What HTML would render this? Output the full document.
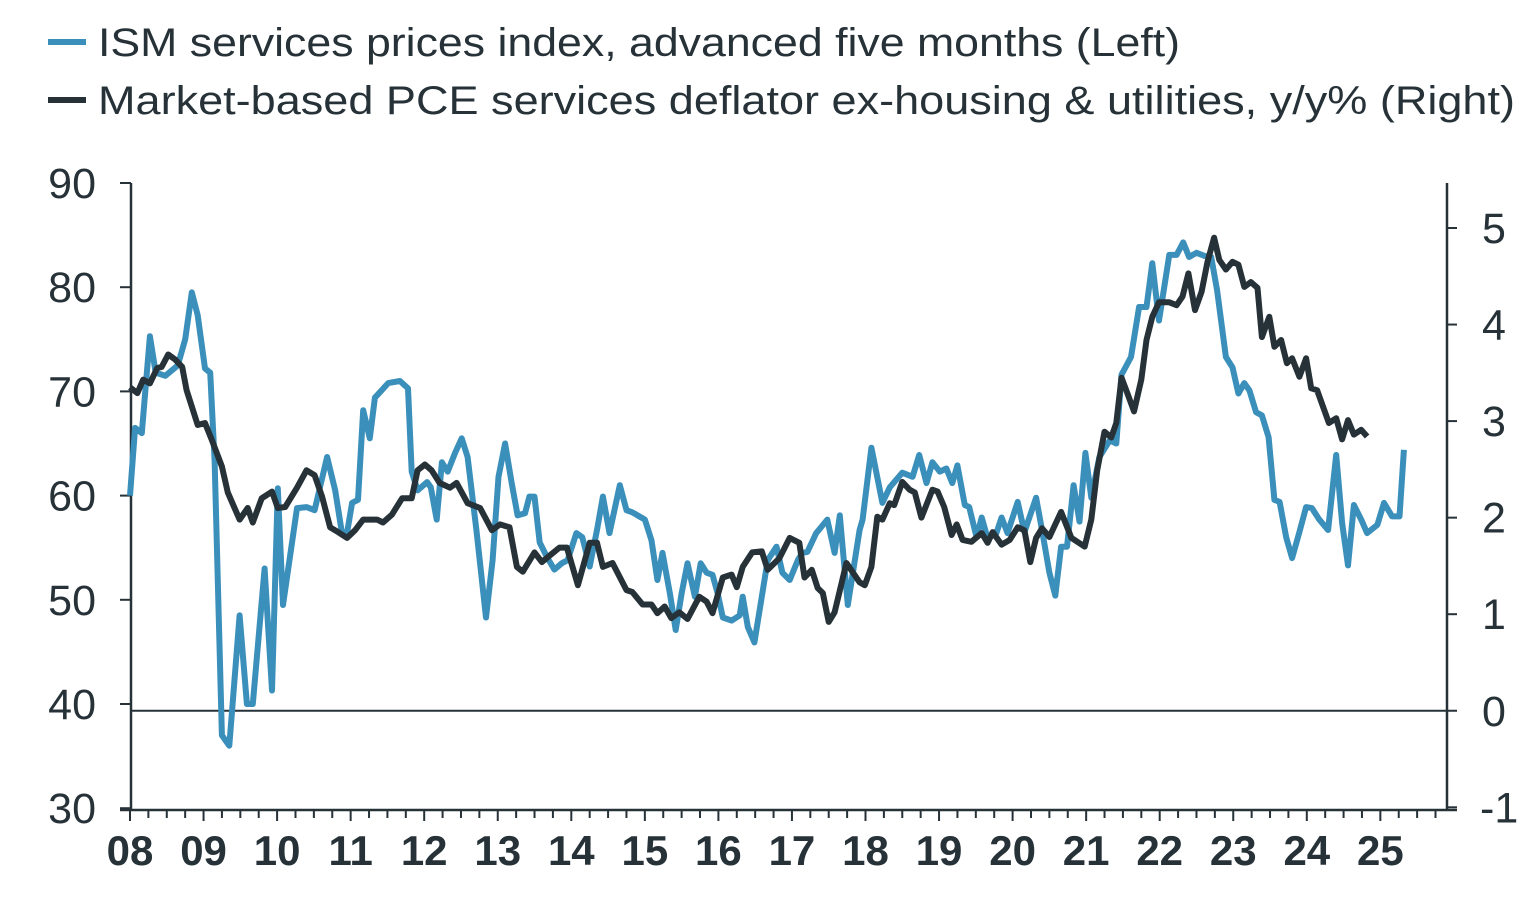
<!DOCTYPE html>
<html><head><meta charset="utf-8">
<style>
html,body{margin:0;padding:0;background:#fff;}
body{width:1540px;height:900px;overflow:hidden;font-family:"Liberation Sans",sans-serif;}
svg text{font-family:"Liberation Sans",sans-serif;fill:#263238;}
</style></head>
<body>
<svg id="chart" width="1540" height="900" viewBox="0 0 1540 900" xmlns="http://www.w3.org/2000/svg">
  <g>
    <g>
      <line x1="48" y1="42" x2="86" y2="42" stroke="#3b8fbb" stroke-width="6"/>
      <text x="98" y="56" font-size="40" textLength="1082" lengthAdjust="spacingAndGlyphs">ISM services prices index, advanced five months (Left)</text>
    </g>
    <g>
      <line x1="48" y1="100" x2="86" y2="100" stroke="#263238" stroke-width="6"/>
      <text x="98" y="114" font-size="40" textLength="1417" lengthAdjust="spacingAndGlyphs">Market-based PCE services deflator ex-housing &amp; utilities, y/y% (Right)</text>
    </g>
  </g>
  <g id="axes"></g>
  <g id="series"></g>
</svg>
<script>
const ismDates=[2008.00,2008.07,2008.16,2008.27,2008.35,2008.48,2008.65,2008.75,2008.84,2008.92,2009.02,2009.09,2009.15,2009.25,2009.35,2009.49,2009.59,2009.67,2009.83,2009.93,2010.01,2010.08,2010.27,2010.40,2010.51,2010.68,2010.79,2010.88,2010.95,2011.02,2011.10,2011.17,2011.26,2011.33,2011.51,2011.67,2011.78,2011.83,2011.91,2012.04,2012.09,2012.17,2012.24,2012.32,2012.42,2012.51,2012.59,2012.71,2012.84,2012.93,2013.01,2013.10,2013.19,2013.27,2013.37,2013.43,2013.50,2013.57,2013.67,2013.77,2013.87,2013.95,2014.07,2014.15,2014.25,2014.35,2014.43,2014.52,2014.66,2014.75,2014.83,2015.00,2015.09,2015.17,2015.24,2015.34,2015.42,2015.50,2015.58,2015.68,2015.76,2015.84,2015.92,2015.99,2016.06,2016.18,2016.29,2016.33,2016.40,2016.49,2016.59,2016.67,2016.79,2016.87,2016.97,2017.08,2017.14,2017.21,2017.33,2017.48,2017.58,2017.65,2017.76,2017.92,2017.96,2018.08,2018.23,2018.33,2018.50,2018.64,2018.73,2018.83,2018.91,2019.01,2019.10,2019.18,2019.25,2019.35,2019.41,2019.51,2019.58,2019.66,2019.78,2019.85,2019.93,2020.07,2020.16,2020.32,2020.40,2020.50,2020.58,2020.66,2020.74,2020.83,2020.91,2020.99,2021.07,2021.18,2021.32,2021.41,2021.48,2021.61,2021.72,2021.82,2021.90,2021.99,2022.13,2022.23,2022.32,2022.40,2022.50,2022.61,2022.70,2022.78,2022.90,2022.99,2023.07,2023.15,2023.22,2023.31,2023.39,2023.48,2023.56,2023.63,2023.72,2023.80,2023.90,2023.99,2024.07,2024.17,2024.29,2024.40,2024.48,2024.56,2024.64,2024.74,2024.82,2024.96,2025.05,2025.16,2025.26,2025.32];
const ismValues=[60,66.5,66,75.3,71.8,71.5,72.5,75,79.5,77.3,72.2,71.8,63.4,37,36,48.5,40,40,53,41.3,60.7,49.5,58.8,58.9,58.6,63.7,60.5,56.5,56.4,59.3,59.6,68.2,65.5,69.4,70.8,71,70.3,62.3,60.5,61.3,60.8,57.7,63.2,62.3,64.1,65.5,63.7,56.7,48.3,53.8,61.8,65,61.2,58.1,58.3,59.9,59.9,55.5,54.1,52.9,53.5,53.8,56.4,56,53.2,56.7,59.9,56.4,61,58.6,58.4,57.7,55.7,51.9,54.5,50.6,47.1,50.6,53.5,50.3,53.5,52.6,52.4,50.6,48.3,48,48.5,50.3,47.4,45.9,50.3,53.8,55.1,52.6,51.9,53.8,54.5,54.6,56.4,57.7,54.5,58.1,49.5,56.7,57.7,64.6,59.3,60.8,62.2,61.8,63.9,61.2,63.2,62.3,62.6,61.2,62.9,59.1,58.9,56,57.9,55.9,56.4,57.9,56.4,59.4,56.5,59.8,56.7,52.6,50.4,55.1,55.1,61,57.5,64.1,59.8,63.7,65.3,65,71.6,73.3,78.1,78.1,82.3,76.8,83.1,83.1,84.3,82.9,83.3,83,82.9,79.7,73.3,72.3,69.8,70.8,70.1,68,67.7,65.6,59.6,59.4,56,54,56.5,58.9,58.8,57.7,56.7,63.9,57.4,53.3,59.1,57.7,56.4,57.2,59.3,58,58,64.4];
const pceDates=[2008.00,2008.10,2008.18,2008.27,2008.37,2008.43,2008.52,2008.61,2008.71,2008.77,2008.92,2009.02,2009.11,2009.25,2009.33,2009.49,2009.60,2009.67,2009.79,2009.93,2010.01,2010.11,2010.27,2010.40,2010.51,2010.61,2010.72,2010.83,2010.95,2011.06,2011.17,2011.36,2011.44,2011.56,2011.70,2011.83,2011.91,2012.01,2012.10,2012.21,2012.35,2012.44,2012.59,2012.76,2012.92,2013.03,2013.16,2013.26,2013.34,2013.50,2013.60,2013.71,2013.84,2013.94,2014.09,2014.25,2014.35,2014.43,2014.56,2014.75,2014.83,2014.97,2015.09,2015.17,2015.27,2015.36,2015.47,2015.58,2015.74,2015.84,2015.92,2016.06,2016.18,2016.25,2016.33,2016.46,2016.59,2016.67,2016.83,2016.97,2017.10,2017.17,2017.27,2017.35,2017.42,2017.50,2017.58,2017.74,2017.92,2017.99,2018.08,2018.16,2018.23,2018.33,2018.39,2018.50,2018.60,2018.67,2018.76,2018.91,2018.98,2019.07,2019.17,2019.24,2019.32,2019.44,2019.58,2019.66,2019.73,2019.85,2019.96,2020.07,2020.16,2020.24,2020.32,2020.40,2020.50,2020.66,2020.80,2020.98,2021.07,2021.15,2021.25,2021.34,2021.41,2021.48,2021.56,2021.65,2021.75,2021.82,2021.90,2021.99,2022.13,2022.23,2022.31,2022.39,2022.48,2022.57,2022.65,2022.74,2022.81,2022.90,2022.99,2023.07,2023.15,2023.24,2023.33,2023.39,2023.49,2023.56,2023.65,2023.73,2023.80,2023.90,2023.99,2024.06,2024.14,2024.30,2024.40,2024.48,2024.56,2024.64,2024.74,2024.82];
const pceValues=[3.35,3.29,3.43,3.39,3.55,3.56,3.69,3.64,3.56,3.32,2.96,2.98,2.81,2.53,2.26,1.98,2.1,1.95,2.2,2.27,2.1,2.11,2.31,2.49,2.44,2.22,1.9,1.85,1.79,1.87,1.98,1.98,1.95,2.03,2.2,2.2,2.49,2.55,2.49,2.36,2.31,2.36,2.15,2.1,1.87,1.93,1.9,1.49,1.44,1.64,1.54,1.61,1.69,1.69,1.3,1.74,1.74,1.49,1.53,1.25,1.23,1.1,1.1,1.01,1.08,0.96,1.02,0.95,1.18,1.13,1.01,1.38,1.41,1.28,1.49,1.64,1.65,1.46,1.58,1.79,1.74,1.38,1.46,1.27,1.22,0.92,1.02,1.53,1.33,1.3,1.49,2.01,1.98,2.15,2.13,2.37,2.29,2.26,2.0,2.29,2.27,2.11,1.82,1.93,1.77,1.75,1.84,1.74,1.85,1.72,1.77,1.9,1.87,1.54,1.79,1.89,1.8,2.06,1.79,1.7,1.98,2.49,2.89,2.83,2.98,3.45,3.29,3.1,3.43,3.84,4.08,4.23,4.23,4.2,4.29,4.53,4.15,4.34,4.65,4.9,4.67,4.57,4.65,4.62,4.39,4.44,4.38,3.87,4.08,3.77,3.84,3.6,3.65,3.46,3.65,3.34,3.32,2.98,3.03,2.81,3.01,2.86,2.91,2.84];
const xTickLabels=["08","09","10","11","12","13","14","15","16","17","18","19","20","21","22","23","24","25"];
const leftTicks=[30,40,50,60,70,80,90];
const rightTicks=[-1,0,1,2,3,4,5];

const NS="http://www.w3.org/2000/svg";
const X0=130,YEAR_W=73.55,X_START=2008;
const xs=d=>X0+(d-X_START)*YEAR_W;
const yL=v=>183+(90-v)*10.42;
const yR=v=>228+(5-v)*96.55;
const RIGHT_X=1447,BOTTOM=810,TOP=183;
function mk(tag,attrs,parent){const e=document.createElementNS(NS,tag);for(const k in attrs)e.setAttribute(k,attrs[k]);parent.appendChild(e);return e;}
const axes=document.getElementById('axes'),series=document.getElementById('series');
const C="#263238";

let e;
e=mk('line',{x1:130,y1:yR(0),x2:RIGHT_X,y2:yR(0),stroke:C,'stroke-width':2},axes);


e=mk('line',{x1:131,y1:TOP,x2:131,y2:BOTTOM+1,stroke:C,'stroke-width':2.5},axes);


e=mk('line',{x1:RIGHT_X,y1:TOP,x2:RIGHT_X,y2:BOTTOM+1,stroke:C,'stroke-width':2.5},axes);


e=mk('line',{x1:120,y1:BOTTOM,x2:RIGHT_X+10,y2:BOTTOM,stroke:C,'stroke-width':2.5},axes);



leftTicks.forEach(v=>{
  const y=yL(v);
  const t=mk('line',{x1:120,y1:y,x2:131,y2:y,stroke:C,'stroke-width':2},axes);
  
  
  const l=mk('text',{x:96,y:y+15,'font-size':43,'text-anchor':'end'},axes);
  l.textContent=v;
  
  
});
rightTicks.forEach(v=>{
  const y=yR(v);
  const t=mk('line',{x1:RIGHT_X,y1:y,x2:RIGHT_X+10,y2:y,stroke:C,'stroke-width':2},axes);
  
  
  const l=mk('text',{x:v<0?1480:1482,y:y+15,'font-size':43},axes);
  l.textContent=v;
  
  
});
for(let q=0;q<xTickLabels.length*4+3;q++){
  const x=xs(X_START+q/4);
  if(x>RIGHT_X-5)break;
  const major=q%4===0;
  const t=mk('line',{x1:x,y1:BOTTOM,x2:x,y2:BOTTOM+(major?11:8),stroke:C,'stroke-width':2},axes);
  
  
}
xTickLabels.forEach((s,i)=>{
  const l=mk('text',{x:xs(X_START+i),y:865,'font-size':42,'text-anchor':'middle','font-weight':'bold'},axes);
  l.textContent=s;
  
  
});

function path(dates,vals,yf){return dates.map((d,i)=>(i?'L':'M')+xs(d).toFixed(1)+','+yf(vals[i]).toFixed(1)).join('');}
const p1=mk('path',{d:path(ismDates,ismValues,yL),fill:'none',stroke:'#3b8fbb','stroke-width':6,'stroke-linejoin':'round'},series);


const p2=mk('path',{d:path(pceDates,pceValues,yR),fill:'none',stroke:'#263238','stroke-width':6,'stroke-linejoin':'round'},series);


</script>
</body></html>
